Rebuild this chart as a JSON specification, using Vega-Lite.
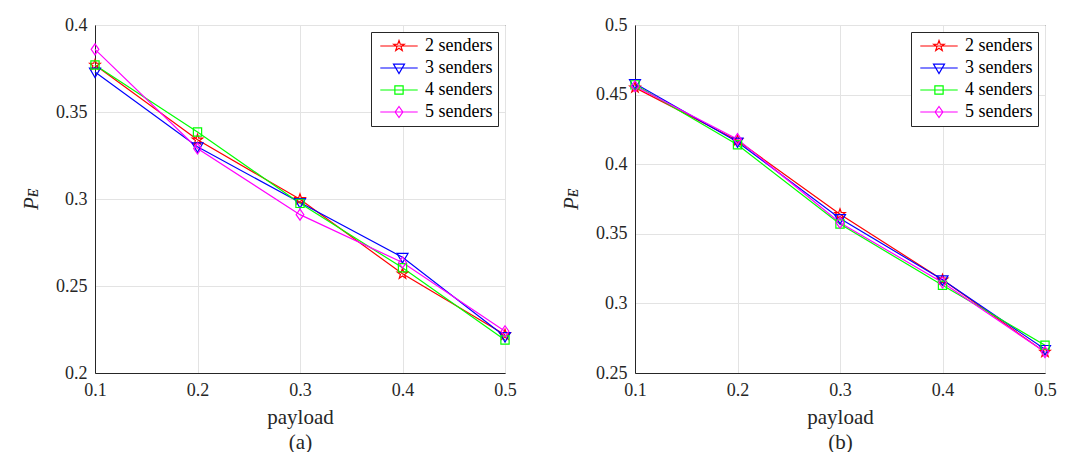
{
  "$schema": "https://vega.github.io/schema/vega-lite/v6.json",
  "padding": {"left": 20, "top": 15, "right": 5, "bottom": 2},
  "background": "white",
  "datasets": {
    "a": [
      {"payload": 0.1, "value": 0.377, "series": "2 senders"},
      {"payload": 0.2, "value": 0.334, "series": "2 senders"},
      {"payload": 0.3, "value": 0.2998, "series": "2 senders"},
      {"payload": 0.4, "value": 0.257, "series": "2 senders"},
      {"payload": 0.5, "value": 0.222, "series": "2 senders"},
      {"payload": 0.1, "value": 0.373, "series": "3 senders"},
      {"payload": 0.2, "value": 0.330, "series": "3 senders"},
      {"payload": 0.3, "value": 0.298, "series": "3 senders"},
      {"payload": 0.4, "value": 0.2665, "series": "3 senders"},
      {"payload": 0.5, "value": 0.221, "series": "3 senders"},
      {"payload": 0.1, "value": 0.377, "series": "4 senders"},
      {"payload": 0.2, "value": 0.3385, "series": "4 senders"},
      {"payload": 0.3, "value": 0.2975, "series": "4 senders"},
      {"payload": 0.4, "value": 0.2605, "series": "4 senders"},
      {"payload": 0.5, "value": 0.219, "series": "4 senders"},
      {"payload": 0.1, "value": 0.386, "series": "5 senders"},
      {"payload": 0.2, "value": 0.329, "series": "5 senders"},
      {"payload": 0.3, "value": 0.291, "series": "5 senders"},
      {"payload": 0.4, "value": 0.2635, "series": "5 senders"},
      {"payload": 0.5, "value": 0.224, "series": "5 senders"}
    ],
    "b": [
      {"payload": 0.1, "value": 0.455, "series": "2 senders"},
      {"payload": 0.2, "value": 0.417, "series": "2 senders"},
      {"payload": 0.3, "value": 0.364, "series": "2 senders"},
      {"payload": 0.4, "value": 0.317, "series": "2 senders"},
      {"payload": 0.5, "value": 0.265, "series": "2 senders"},
      {"payload": 0.1, "value": 0.458, "series": "3 senders"},
      {"payload": 0.2, "value": 0.416, "series": "3 senders"},
      {"payload": 0.3, "value": 0.361, "series": "3 senders"},
      {"payload": 0.4, "value": 0.317, "series": "3 senders"},
      {"payload": 0.5, "value": 0.267, "series": "3 senders"},
      {"payload": 0.1, "value": 0.457, "series": "4 senders"},
      {"payload": 0.2, "value": 0.414, "series": "4 senders"},
      {"payload": 0.3, "value": 0.357, "series": "4 senders"},
      {"payload": 0.4, "value": 0.313, "series": "4 senders"},
      {"payload": 0.5, "value": 0.270, "series": "4 senders"},
      {"payload": 0.1, "value": 0.456, "series": "5 senders"},
      {"payload": 0.2, "value": 0.418, "series": "5 senders"},
      {"payload": 0.3, "value": 0.358, "series": "5 senders"},
      {"payload": 0.4, "value": 0.315, "series": "5 senders"},
      {"payload": 0.5, "value": 0.265, "series": "5 senders"}
    ]
  },
  "spacing": 35,
  "resolve": {"scale": {"color": "independent", "shape": "independent", "x": "independent", "y": "independent"}, "legend": {"color": "independent", "shape": "independent"}},
  "hconcat": [
    {
      "width": 410,
      "height": 348,
      "data": {"name": "a"},
      "encoding": {
        "x": {"field": "payload", "type": "quantitative", "scale": {"domain": [0.1, 0.5], "nice": false, "zero": false}, "axis": {"values": [0.1, 0.2, 0.3, 0.4, 0.5], "format": ".1f", "title": ["payload", "(a)"]}},
        "y": {"field": "value", "type": "quantitative", "scale": {"domain": [0.2, 0.4], "nice": false, "zero": false}, "axis": {"values": [0.2, 0.25, 0.3, 0.35, 0.4], "format": "~g", "title": "Pᴇ"}},
        "color": {"field": "series", "type": "nominal", "scale": {"domain": ["2 senders", "3 senders", "4 senders", "5 senders"], "range": ["#ff0000", "#0000ff", "#00ff00", "#ff00ff"]},
          "legend": {"title": null}}
      },
      "layer": [
        {"mark": {"type": "line", "strokeWidth": 1.2}},
        {"transform": [{"filter": "datum.series === '2 senders'"}], "mark": {"type": "point", "filled": false, "size": 121, "strokeWidth": 1.2, "opacity": 1, "shape": "M0,-1L0.235,-0.324L0.951,-0.309L0.38,0.124L0.588,0.809L0,0.4L-0.588,0.809L-0.38,0.124L-0.951,-0.309L-0.235,-0.324Z"}},
        {"transform": [{"filter": "datum.series === '3 senders'"}], "mark": {"type": "point", "filled": false, "size": 121, "strokeWidth": 1.2, "opacity": 1, "shape": "M-1,-0.7L1,-0.7L0,1Z"}},
        {"transform": [{"filter": "datum.series === '4 senders'"}], "mark": {"type": "point", "filled": false, "size": 121, "strokeWidth": 1.2, "opacity": 1, "shape": "M-0.75,-0.75H0.75V0.75H-0.75Z"}},
        {"transform": [{"filter": "datum.series === '5 senders'"}], "mark": {"type": "point", "filled": false, "size": 121, "strokeWidth": 1.2, "opacity": 1, "shape": "M0,-1L0.7,0L0,1L-0.7,0Z"}},
        {"mark": {"type": "point", "filled": false, "size": 121, "strokeWidth": 1.2, "opacity": 0},
          "encoding": {"shape": {"field": "series", "type": "nominal", "scale": {"domain": ["2 senders", "3 senders", "4 senders", "5 senders"], "range": ["M0,-1L0.235,-0.324L0.951,-0.309L0.38,0.124L0.588,0.809L0,0.4L-0.588,0.809L-0.38,0.124L-0.951,-0.309L-0.235,-0.324ZM-3.4,0H3.4", "M-1,-0.7L1,-0.7L0,1ZM-3.4,0H3.4", "M-0.75,-0.75H0.75V0.75H-0.75ZM-3.4,0H3.4", "M0,-1L0.7,0L0,1L-0.7,0ZM-3.4,0H3.4"]},
            "legend": {"title": null}}}}
      ]
    },
    {
      "width": 410,
      "height": 348,
      "data": {"name": "b"},
      "encoding": {
        "x": {"field": "payload", "type": "quantitative", "scale": {"domain": [0.1, 0.5], "nice": false, "zero": false}, "axis": {"values": [0.1, 0.2, 0.3, 0.4, 0.5], "format": ".1f", "title": ["payload", "(b)"]}},
        "y": {"field": "value", "type": "quantitative", "scale": {"domain": [0.25, 0.5], "nice": false, "zero": false}, "axis": {"values": [0.25, 0.3, 0.35, 0.4, 0.45, 0.5], "format": "~g", "title": "Pᴇ"}},
        "color": {"field": "series", "type": "nominal", "scale": {"domain": ["2 senders", "3 senders", "4 senders", "5 senders"], "range": ["#ff0000", "#0000ff", "#00ff00", "#ff00ff"]},
          "legend": {"title": null}}
      },
      "layer": [
        {"mark": {"type": "line", "strokeWidth": 1.2}},
        {"transform": [{"filter": "datum.series === '2 senders'"}], "mark": {"type": "point", "filled": false, "size": 121, "strokeWidth": 1.2, "opacity": 1, "shape": "M0,-1L0.235,-0.324L0.951,-0.309L0.38,0.124L0.588,0.809L0,0.4L-0.588,0.809L-0.38,0.124L-0.951,-0.309L-0.235,-0.324Z"}},
        {"transform": [{"filter": "datum.series === '3 senders'"}], "mark": {"type": "point", "filled": false, "size": 121, "strokeWidth": 1.2, "opacity": 1, "shape": "M-1,-0.7L1,-0.7L0,1Z"}},
        {"transform": [{"filter": "datum.series === '4 senders'"}], "mark": {"type": "point", "filled": false, "size": 121, "strokeWidth": 1.2, "opacity": 1, "shape": "M-0.75,-0.75H0.75V0.75H-0.75Z"}},
        {"transform": [{"filter": "datum.series === '5 senders'"}], "mark": {"type": "point", "filled": false, "size": 121, "strokeWidth": 1.2, "opacity": 1, "shape": "M0,-1L0.7,0L0,1L-0.7,0Z"}},
        {"mark": {"type": "point", "filled": false, "size": 121, "strokeWidth": 1.2, "opacity": 0},
          "encoding": {"shape": {"field": "series", "type": "nominal", "scale": {"domain": ["2 senders", "3 senders", "4 senders", "5 senders"], "range": ["M0,-1L0.235,-0.324L0.951,-0.309L0.38,0.124L0.588,0.809L0,0.4L-0.588,0.809L-0.38,0.124L-0.951,-0.309L-0.235,-0.324ZM-3.4,0H3.4", "M-1,-0.7L1,-0.7L0,1ZM-3.4,0H3.4", "M-0.75,-0.75H0.75V0.75H-0.75ZM-3.4,0H3.4", "M0,-1L0.7,0L0,1L-0.7,0ZM-3.4,0H3.4"]},
            "legend": {"title": null}}}}
      ]
    }
  ],
  "config": {
    "font": "Liberation Serif",
    "view": {"stroke": "#262626", "strokeWidth": 1},
    "axis": {
      "labelFont": "Liberation Serif", "labelFontSize": 18, "labelColor": "#262626",
      "titleFont": "Liberation Serif", "titleFontSize": 21, "titleFontWeight": "normal", "titleColor": "#262626",
      "gridColor": "#e3e3e3", "gridWidth": 1, "domainColor": "#262626", "tickColor": "#262626",
      "ticks": false, "labelFlush": false, "labelOverlap": false, "labelPadding": 8
    },
    "axisX": {"titlePadding": 7, "titleLineHeight": 25},
    "axisY": {"titlePadding": 14, "titleFontStyle": "italic"},
    "legend": {
      "orient": "top-right", "offset": 7, "fillColor": "white", "strokeColor": "#262626",
      "padding": 5, "labelFont": "Liberation Serif", "labelFontSize": 18, "labelColor": "#000000",
      "symbolSize": 121, "symbolStrokeWidth": 1.2, "symbolOpacity": 1, "symbolOffset": 14, "labelOffset": 17, "rowPadding": 4
    }
  }
}
